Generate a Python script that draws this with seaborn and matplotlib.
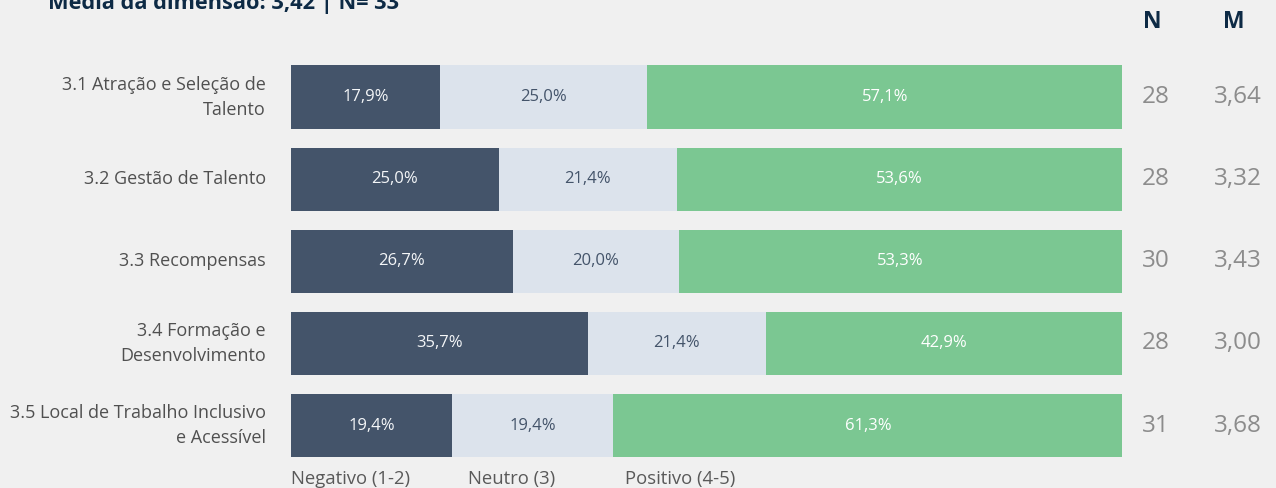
import matplotlib
matplotlib.use("Agg")
import matplotlib.pyplot as plt
import seaborn as sns
import pandas as pd

# Data
categories = [
    "3.1 Atração e Seleção de\nTalento",
    "3.2 Gestão de Talento",
    "3.3 Recompensas",
    "3.4 Formação e\nDesenvolvimento",
    "3.5 Local de Trabalho Inclusivo\ne Acessível",
]
negativo = [17.9, 25.0, 26.7, 35.7, 19.4]
neutro = [25.0, 21.4, 20.0, 21.4, 19.4]
positivo = [57.1, 53.6, 53.3, 42.9, 61.3]
n_resp = [28, 28, 30, 28, 31]
media = ["3,64", "3,32", "3,43", "3,00", "3,68"]
legend_labels = ["Negativo (1-2)", "Neutro (3)", "Positivo (4-5)"]
title = "Média da dimensão: 3,42 | N= 33"

BG = "#f0f0f0"
C_NEG = "#44546a"
C_NEU = "#dce3ec"
C_POS = "#7bc792"
NAVY = "#0d2a45"

sns.set_theme(style="white")
plt.rcParams["font.family"] = ["Open Sans", "DejaVu Sans"]

df = pd.DataFrame({"cat": categories, "neg": negativo, "neu": neutro, "pos": positivo})
df["c1"] = df["neg"]
df["c2"] = df["neg"] + df["neu"]
df["c3"] = df["neg"] + df["neu"] + df["pos"]

fig = plt.figure(figsize=(12.76, 4.88), dpi=100, facecolor=BG)
ax = fig.add_axes([291 / 1276, 1 - 466.6 / 488, 831 / 1276, 410.6 / 488])
ax.set_facecolor(BG)

# Stacked bars: draw cumulative totals from the widest layer down
for col, color in [("c3", C_POS), ("c2", C_NEU), ("c1", C_NEG)]:
    sns.barplot(data=df, y="cat", x=col, color=color, width=0.77, ax=ax,
                saturation=1, orient="h", linewidth=0)

ax.set_xlim(0, 100)
ax.set_ylim(4.5, -0.5)
ax.set_xlabel("")
ax.set_ylabel("")
ax.set_xticks([])
ax.set_yticks([])
for s in ax.spines.values():
    s.set_visible(False)

trans = ax.get_yaxis_transform()
for i in range(len(categories)):
    # Segment value labels
    segs = [(0, negativo[i], "#f4f6f8"), (negativo[i], neutro[i], "#44546a"),
            (negativo[i] + neutro[i], positivo[i], "#ffffff")]
    for start, w, tc in segs:
        ax.text(start + w / 2, i, f"{w:.1f}%".replace(".", ","), ha="center", va="center",
                fontsize=12, color=tc)
    # Category label
    ax.text(-25 / 831, i, categories[i], transform=trans, ha="right", va="center",
            multialignment="right", fontsize=13, color="#505050", linespacing=1.5)
    # N and M columns
    ax.text((1156 - 291) / 831, i, str(n_resp[i]), transform=trans, ha="center", va="center",
            fontsize=17.5, color="#8c8c8c")
    ax.text((1238 - 291) / 831, i, media[i], transform=trans, ha="center", va="center",
            fontsize=17.5, color="#8c8c8c")

fig.text(1152 / 1276, 1 - 22 / 488, "N", ha="center", va="center", fontsize=16.5,
         fontweight="bold", color=NAVY)
fig.text(1234 / 1276, 1 - 22 / 488, "M", ha="center", va="center", fontsize=16.5,
         fontweight="bold", color=NAVY)

# Title
fig.text(48 / 1276, 1 - 3 / 488, title, ha="left", va="center", fontsize=15.7,
         fontweight="bold", color=NAVY)

# Legend labels
for x, lab in zip([291, 468, 625], legend_labels):
    fig.text(x / 1276, 1 - 479 / 488, lab, ha="left", va="center", fontsize=13.3,
             color="#595959")

fig.savefig("out.png", dpi=100, facecolor=BG)
